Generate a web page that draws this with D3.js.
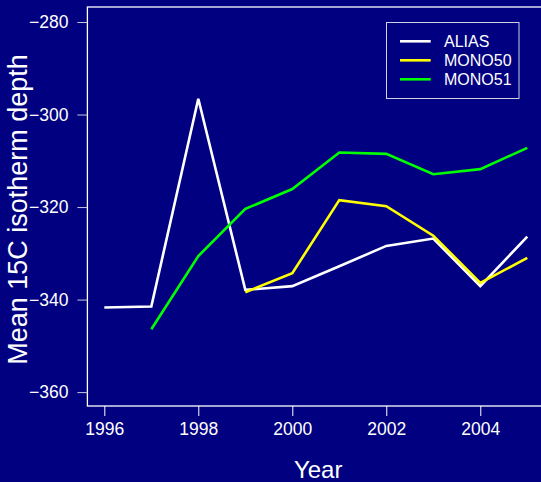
<!DOCTYPE html>
<html><head><meta charset="utf-8">
<script src="https://cdn.jsdelivr.net/npm/d3@7"></script>
<style>html,body{margin:0;padding:0;background:#000080;overflow:hidden}</style>
</head><body>
<script>
const years = [1996,1997,1998,1999,2000,2001,2002,2003,2004,2005];
const alias  = [-341.7,-341.5,-296.6,-337.9,-337.1,-332.8,-328.4,-326.8,-337.1,-326.4];
const mono50 = [null,null,null,-338.4,-334.3,-318.5,-319.8,-326.2,-336.4,-331.0];
const mono51 = [null,-346.4,-330.6,-320.4,-316.1,-308.2,-308.5,-312.9,-311.8,-307.2];
const seriesNames = ["ALIAS","MONO50","MONO51"];
const seriesColors = ["#ffffff","#ffff00","#00ff00"];
const xTicks = [1996,1998,2000,2002,2004];
const yTicks = [-360,-340,-320,-300,-280];

const W=541,H=482;
const svg=d3.select("body").append("svg").attr("width",W).attr("height",H)
  .style("font-family","'Liberation Sans',Arial,sans-serif");
svg.append("rect").attr("width",W).attr("height",H).attr("fill","#000080");

const x=d3.scaleLinear().domain([1995.64,2005.36]).range([87.4,544.2]);
const y=d3.scaleLinear().domain([-363.0,-276.76]).range([406,7]);

// box
svg.append("rect").attr("x",x.range()[0]).attr("y",y.range()[1])
  .attr("width",x.range()[1]-x.range()[0]).attr("height",y.range()[0]-y.range()[1])
  .attr("fill","none").attr("stroke","#ffffff").attr("stroke-width",1.3);

// x axis
const xa=svg.append("g").attr("transform",`translate(0,${y.range()[0]})`)
  .call(d3.axisBottom(x).tickValues(xTicks).tickFormat(d3.format("d")).tickSize(10).tickPadding(7).tickSizeOuter(0));
xa.select(".domain").remove();
xa.selectAll("line").attr("stroke","#ffffff");
xa.selectAll("text").attr("fill","#ffffff").style("font-size","17.5px").style("font-family","'Liberation Sans',Arial,sans-serif");

// y axis
const ya=svg.append("g").attr("transform",`translate(${x.range()[0]},0)`)
  .call(d3.axisLeft(y).tickValues(yTicks).tickFormat(d=>"\u2212"+Math.abs(d)).tickSize(10).tickPadding(9).tickSizeOuter(0));
ya.select(".domain").remove();
ya.selectAll("line").attr("stroke","#c8c8e0");
ya.selectAll("text").attr("fill","#ffffff").style("font-size","17.5px").style("font-family","'Liberation Sans',Arial,sans-serif");

// axis titles
svg.append("text").attr("x",(87.4+541)/2+4).attr("y",477.5).attr("text-anchor","middle")
  .attr("fill","#ffffff").style("font-size","24px").text("Year");
svg.append("text").attr("transform",`translate(26.5,${(7+406)/2+3}) rotate(-90)`).attr("text-anchor","middle")
  .attr("fill","#ffffff").style("font-size","27px").text("Mean 15C isotherm depth");

// lines
const data=[alias,mono50,mono51];
const line=d3.line().defined(d=>d[1]!=null).x(d=>x(d[0])).y(d=>y(d[1]));
data.forEach((s,i)=>{
  svg.append("path").datum(years.map((yr,j)=>[yr,s[j]]))
    .attr("d",line).attr("fill","none").attr("stroke",seriesColors[i])
    .attr("stroke-width",2.6).attr("stroke-linejoin","miter").attr("stroke-linecap","butt");
});

// legend
const lg=svg.append("g");
lg.append("rect").attr("x",386.5).attr("y",22.5).attr("width",132.5).attr("height",76)
  .attr("fill","#000080").attr("stroke","#d0d0e0").attr("stroke-width",1);
seriesNames.forEach((n,i)=>{
  const yy=41.3+i*19;
  lg.append("line").attr("x1",400).attr("x2",430.7).attr("y1",yy).attr("y2",yy)
    .attr("stroke",seriesColors[i]).attr("stroke-width",2.6);
  lg.append("text").attr("x",444).attr("y",yy).attr("dy","0.36em").attr("fill","#ffffff")
    .style("font-size","16px").text(n);
});
</script>
</body></html>
